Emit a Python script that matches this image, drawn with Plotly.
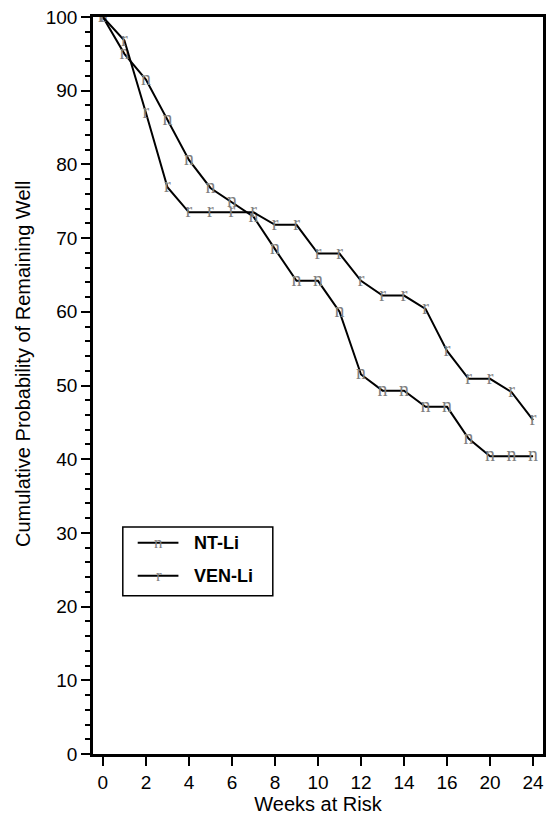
import plotly.graph_objects as go

weeks = [0, 1, 2, 3, 4, 5, 6, 7, 8, 9, 10, 11, 12, 13, 14, 15, 16, 18, 20, 22, 24]
nt_li = [100, 95.0, 91.5, 86.0, 80.6, 76.8, 74.9, 72.9, 68.5, 64.2, 64.2, 60.0, 51.5,
         49.3, 49.3, 47.1, 47.1, 42.8, 40.4, 40.4, 40.4]
ven_li = [100, 96.8, 87.0, 76.9, 73.5, 73.5, 73.5, 73.5, 71.8, 71.8, 67.9, 67.9, 64.2,
          62.2, 62.2, 60.4, 54.7, 50.9, 50.9, 49.1, 45.3]
x_tick_labels = ["0", "2", "4", "6", "8", "10", "12", "14", "16", "20", "24"]
series_names = ["NT-Li", "VEN-Li"]
series_glyphs = ["n", "r"]

cats = [str(w) for w in weeks]

MARK_FONT = dict(family="Liberation Serif, DejaVu Serif, serif", size=20, color="#808080")

fig = go.Figure()
for vals, name, g in zip([nt_li, ven_li], series_names, series_glyphs):
    fig.add_trace(go.Scatter(
        x=cats, y=vals, mode="lines+text", name=name,
        text=[g] * len(vals), textposition="middle center",
        textfont=MARK_FONT,
        line=dict(color="black", width=2),
        showlegend=False, hoverinfo="x+y",
    ))

# Legend (drawn manually so the glyph markers appear on the sample lines)
px = lambda v: (v - 93) / 453.0
py = lambda v: (757 - v) / 740.0
fig.add_shape(type="rect", xref="paper", yref="paper",
              x0=px(123), x1=px(274), y0=py(598), y1=py(529),
              line=dict(color="black", width=1.5), fillcolor="white")
for i, (name, g) in enumerate(zip(series_names, series_glyphs)):
    yy = py(545 + i * 33)
    fig.add_shape(type="line", xref="paper", yref="paper",
                  x0=px(138), x1=px(179), y0=yy, y1=yy,
                  line=dict(color="black", width=2))
    fig.add_annotation(xref="paper", yref="paper", x=px(159), y=yy, text=g,
                       showarrow=False, font=dict(MARK_FONT, size=17),
                       xanchor="center", yanchor="middle")
    fig.add_annotation(xref="paper", yref="paper", x=px(193), y=yy, text="<b>%s</b>" % name,
                       showarrow=False, xanchor="left", yanchor="middle",
                       font=dict(family="Liberation Sans, Arial, sans-serif", size=18, color="black"))

# y-axis title placed to match the reference position
fig.add_annotation(xref="paper", yref="paper", x=px(22), y=py(365),
                   text="Cumulative Probability of Remaining Well", textangle=-90,
                   showarrow=False, xanchor="center", yanchor="middle",
                   font=dict(family="Liberation Sans, Arial, sans-serif", size=20, color="black"))

fig.update_layout(
    width=550, height=817,
    margin=dict(l=93, r=4, t=17, b=60),
    plot_bgcolor="white", paper_bgcolor="white",
    font=dict(family="Liberation Sans, Arial, sans-serif", size=19, color="black"),
    xaxis=dict(
        type="category", categoryorder="array", categoryarray=cats,
        range=[-0.46, 20.46],
        tickmode="array", tickvals=x_tick_labels, ticktext=x_tick_labels,
        ticks="outside", ticklen=9, tickwidth=1.5, tickcolor="black",
        showline=True, linecolor="black", linewidth=2.5, mirror=True,
        showgrid=False, zeroline=False,
        title=dict(text="Weeks at Risk", font=dict(size=20), standoff=6),
    ),
    yaxis=dict(
        range=[0, 100], tickmode="array", tickvals=list(range(0, 101, 10)),
        ticks="outside", ticklen=9, tickwidth=1.5, tickcolor="black",
        minor=dict(tickvals=[v for v in range(0, 101, 2) if v % 10], ticks="outside",
                   ticklen=5, tickwidth=1.5, tickcolor="black"),
        showline=True, linecolor="black", linewidth=2.5, mirror=True,
        showgrid=False, zeroline=False,
    ),
)

fig.write_html("out.html")
